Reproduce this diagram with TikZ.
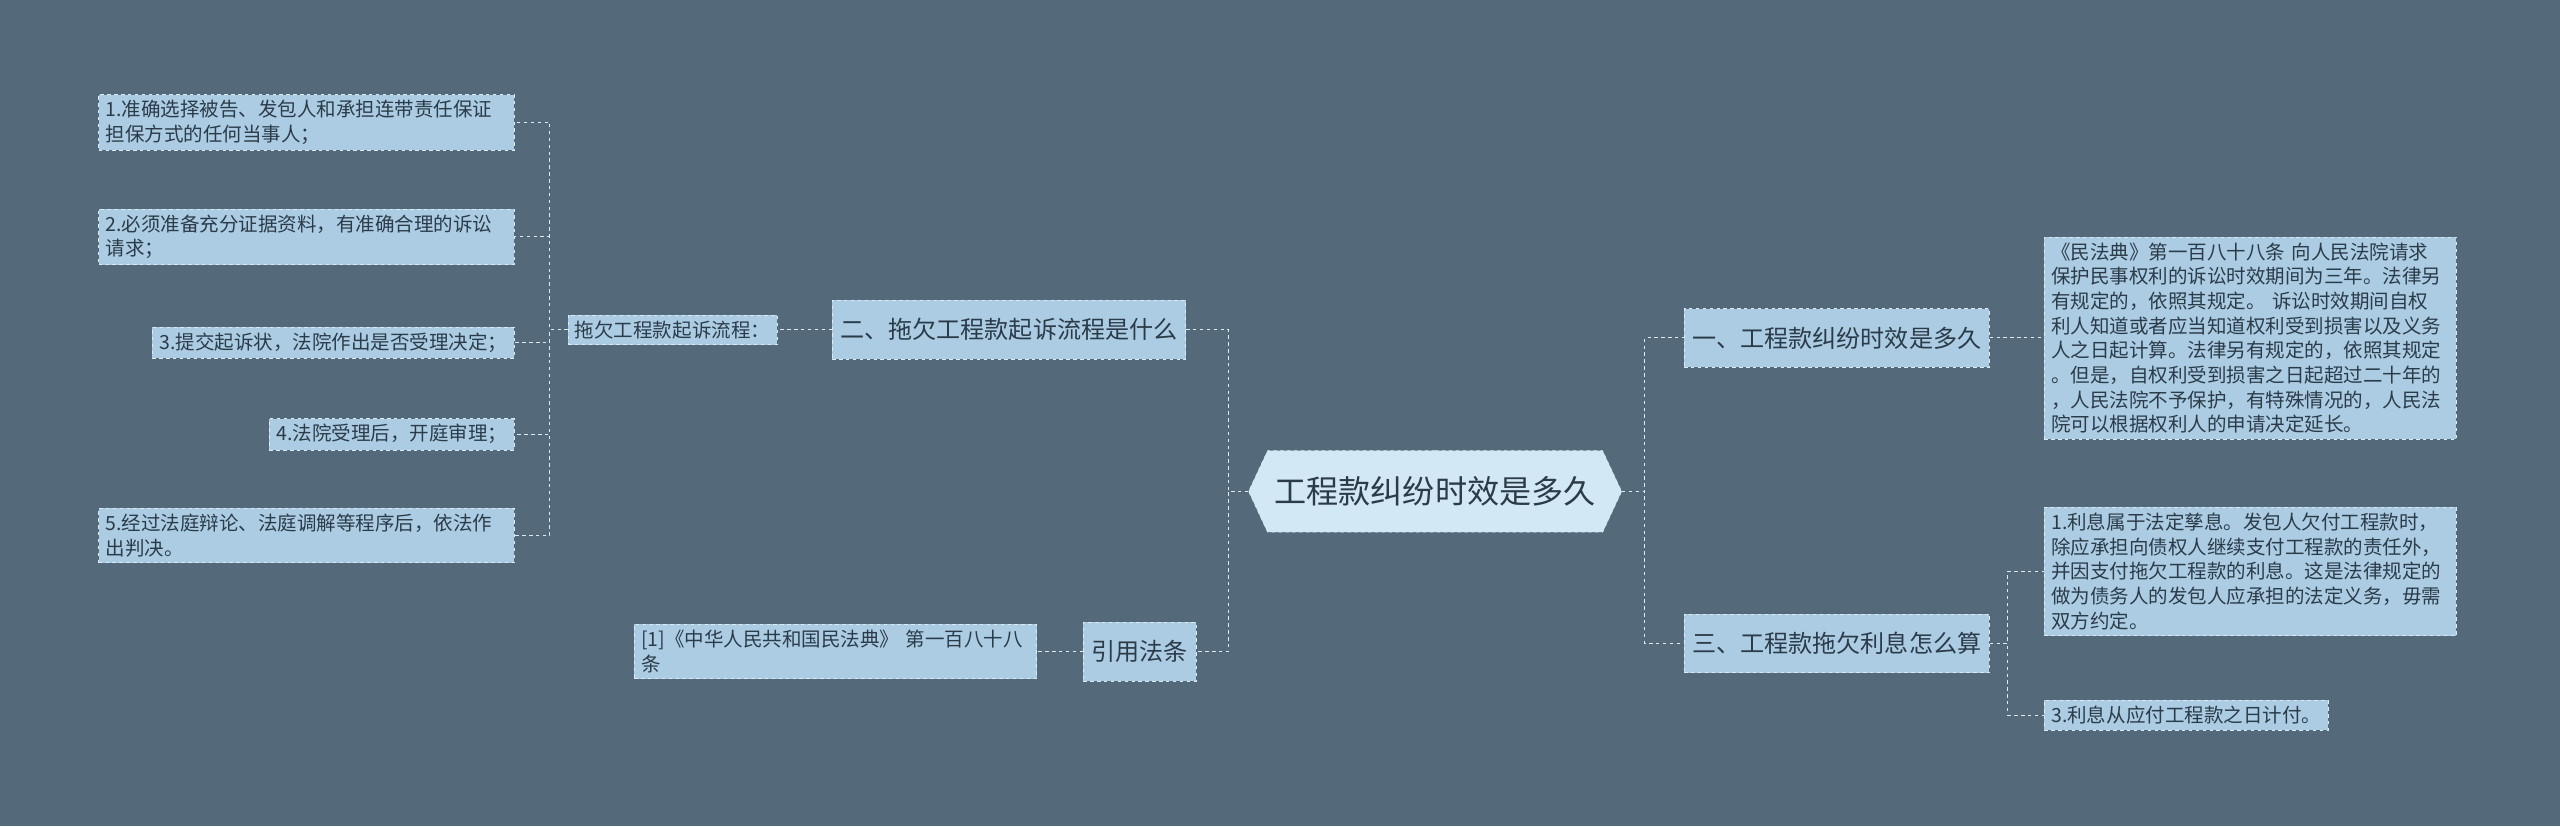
\documentclass[tikz,border=0pt]{standalone}
\usepackage{fontspec}
\setmainfont{Noto Sans CJK SC}
\usetikzlibrary{shapes.symbols}
\definecolor{bgcol}{HTML}{546A7A}
\definecolor{boxcol}{HTML}{ABCCE3}
\definecolor{rootcol}{HTML}{D3E8F5}
\definecolor{txtcol}{HTML}{2C3B48}
\definecolor{linecol}{HTML}{DCEBF5}

\begin{document}
\begin{tikzpicture}[x=0.05cm, y=-0.05cm,
    rootnode/.style={draw=linecol, dashed, fill=rootcol, text=txtcol, font=\fontsize{28}{32}\selectfont,
        shape=signal, signal to=west and east, signal pointer angle=130, minimum height=2.5cm, inner xsep=6pt},
    branch/.style={draw=linecol, dashed, fill=boxcol, text=txtcol, font=\fontsize{21}{25}\selectfont,
        minimum height=1.8cm, inner xsep=7pt},
    leaf/.style={draw=linecol, dashed, fill=boxcol, text=txtcol, font=\fontsize{17}{21.5}\selectfont,
        align=left, inner xsep=6pt, inner ysep=5pt},
    link/.style={draw=linecol, dashed, line width=0.9pt}
]
    \useasboundingbox[fill=bgcol] (0,0) rectangle (1568,506);

    % root
    \node[rootnode] (root) at (879,301) {工程款纠纷时效是多久};

    % right branches
    \node[branch] (b1) at (1125,207) {一、工程款纠纷时效是多久};
    \node[branch] (b3) at (1125,394) {三、工程款拖欠利息怎么算};
    \node[leaf, anchor=west, text width=12.2cm] (r1) at (1252,207) {《民法典》第一百八十八条 向人民法院请求\\保护民事权利的诉讼时效期间为三年。法律另\\有规定的，依照其规定。 诉讼时效期间自权\\利人知道或者应当知道权利受到损害以及义务\\人之日起计算。法律另有规定的，依照其规定\\。但是，自权利受到损害之日起超过二十年的\\，人民法院不予保护，有特殊情况的，人民法\\院可以根据权利人的申请决定延长。};
    \node[leaf, anchor=west, text width=12.2cm] (r2) at (1252,350) {1.利息属于法定孳息。发包人欠付工程款时，\\除应承担向债权人继续支付工程款的责任外，\\并因支付拖欠工程款的利息。这是法律规定的\\做为债务人的发包人应承担的法定义务，毋需\\双方约定。};
    \node[leaf, anchor=west] (r3) at (1252,438) {3.利息从应付工程款之日计付。};

    % left branches
    \node[branch] (b2) at (618,202) {二、拖欠工程款起诉流程是什么};
    \node[branch] (b4) at (698,399) {引用法条};
    \node[leaf, anchor=east] (sub) at (476,202) {拖欠工程款起诉流程：};
    \node[leaf, anchor=east, text width=11.9cm] (cite) at (635,399) {[1]《中华人民共和国民法典》 第一百八十八\\条};

    \node[leaf, anchor=east, text width=12.3cm] (l1) at (315,75) {1.准确选择被告、发包人和承担连带责任保证\\担保方式的任何当事人；};
    \node[leaf, anchor=east, text width=12.3cm] (l2) at (315,145) {2.必须准备充分证据资料，有准确合理的诉讼\\请求；};
    \node[leaf, anchor=east] (l3) at (315,210) {3.提交起诉状，法院作出是否受理决定；};
    \node[leaf, anchor=east] (l4) at (315,266) {4.法院受理后，开庭审理；};
    \node[leaf, anchor=east, text width=12.3cm] (l5) at (315,328) {5.经过法庭辩论、法庭调解等程序后，依法作\\出判决。};

    % connectors
    \draw[link] (root.west) -- ++(-12,0) |- (b2.east);
    \draw[link] (root.west) -- ++(-12,0) |- (b4.east);
    \draw[link] (root.east) -- ++(14,0) |- (b1.west);
    \draw[link] (root.east) -- ++(14,0) |- (b3.west);
    \draw[link] (b1.east) -- (r1.west);
    \foreach \n in {r2,r3}
        \draw[link] (b3.east) -- ++(11,0) |- (\n.west);
    \draw[link] (b2.west) -- (sub.east);
    \draw[link] (b4.west) -- (cite.east);
    \foreach \n in {l1,l2,l3,l4,l5}
        \draw[link] (sub.west) -- ++(-11,0) |- (\n.east);
\end{tikzpicture}
\end{document}
